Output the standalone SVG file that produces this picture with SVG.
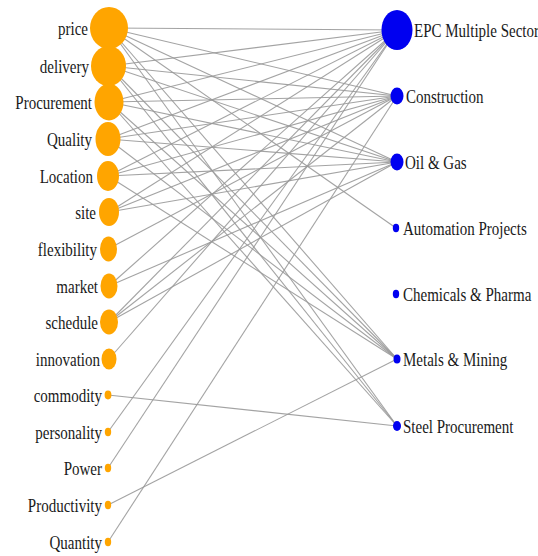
<svg xmlns="http://www.w3.org/2000/svg" width="538" height="556" viewBox="0 0 538 556">
  <style>
    .edge { stroke: #999; stroke-width: 1.1; fill: none; opacity: 0.9; }
    .term { fill: #ffa500; }
    .sector { fill: #0000f0; }
    text { font-family: "Liberation Serif", "Times New Roman", serif; font-size: 19px; fill: #1a1a1a; }
    .lbl-l { text-anchor: end; }
    .lbl-r { text-anchor: start; }
  </style>
  <rect width="538" height="556" fill="#ffffff"/>

  <!-- links between terms and sectors -->
  <g id="connectors">
    <!-- price -->
    <line class="edge" x1="109" y1="28" x2="397" y2="30"/>
    <line class="edge" x1="109" y1="28" x2="397" y2="96"/>
    <line class="edge" x1="109" y1="28" x2="397" y2="162"/>
    <line class="edge" x1="109" y1="28" x2="396" y2="228"/>
    <line class="edge" x1="109" y1="28" x2="397" y2="359"/>
    <line class="edge" x1="109" y1="28" x2="397" y2="426"/>
    <!-- delivery -->
    <line class="edge" x1="109" y1="66" x2="397" y2="30"/>
    <line class="edge" x1="109" y1="66" x2="397" y2="96"/>
    <line class="edge" x1="109" y1="66" x2="397" y2="162"/>
    <line class="edge" x1="109" y1="66" x2="397" y2="359"/>
    <line class="edge" x1="109" y1="66" x2="397" y2="426"/>
    <!-- Procurement -->
    <line class="edge" x1="109" y1="102" x2="397" y2="30"/>
    <line class="edge" x1="109" y1="102" x2="397" y2="96"/>
    <line class="edge" x1="109" y1="102" x2="397" y2="162"/>
    <line class="edge" x1="109" y1="102" x2="397" y2="359"/>
    <line class="edge" x1="109" y1="102" x2="397" y2="426"/>
    <!-- Quality -->
    <line class="edge" x1="108" y1="139" x2="397" y2="30"/>
    <line class="edge" x1="108" y1="139" x2="397" y2="96"/>
    <line class="edge" x1="108" y1="139" x2="397" y2="162"/>
    <line class="edge" x1="108" y1="139" x2="397" y2="359"/>
    <!-- Location -->
    <line class="edge" x1="108" y1="176" x2="397" y2="30"/>
    <line class="edge" x1="108" y1="176" x2="397" y2="96"/>
    <line class="edge" x1="108" y1="176" x2="397" y2="162"/>
    <line class="edge" x1="108" y1="176" x2="397" y2="359"/>
    <!-- site -->
    <line class="edge" x1="109" y1="212" x2="397" y2="30"/>
    <line class="edge" x1="109" y1="212" x2="397" y2="96"/>
    <line class="edge" x1="109" y1="212" x2="397" y2="162"/>
    <!-- flexibility -->
    <line class="edge" x1="108" y1="249" x2="397" y2="96"/>
    <!-- market -->
    <line class="edge" x1="109" y1="286" x2="397" y2="30"/>
    <line class="edge" x1="109" y1="286" x2="397" y2="162"/>
    <!-- schedule -->
    <line class="edge" x1="109" y1="322" x2="397" y2="30"/>
    <line class="edge" x1="109" y1="322" x2="397" y2="96"/>
    <line class="edge" x1="109" y1="322" x2="397" y2="162"/>
    <!-- innovation -->
    <line class="edge" x1="109" y1="359" x2="397" y2="30"/>
    <!-- commodity -->
    <line class="edge" x1="108" y1="395" x2="397" y2="426"/>
    <!-- personality -->
    <line class="edge" x1="108" y1="432" x2="397" y2="30"/>
    <!-- Power -->
    <line class="edge" x1="108" y1="468" x2="397" y2="30"/>
    <!-- Productivity -->
    <line class="edge" x1="108" y1="505" x2="397" y2="359"/>
    <!-- Quantity -->
    <line class="edge" x1="108" y1="542" x2="397" y2="96"/>
  </g>

  <!-- term nodes (left column) -->
  <g id="node-price"><ellipse class="term" cx="109" cy="28" rx="19" ry="21"/><text class="lbl-l" transform="translate(88 35) scale(0.79 1)">price</text></g>
  <g id="node-delivery"><ellipse class="term" cx="108.5" cy="66" rx="17.5" ry="20"/><text class="lbl-l" transform="translate(89 73) scale(0.79 1)">delivery</text></g>
  <g id="node-procurement"><ellipse class="term" cx="109" cy="102" rx="14.5" ry="18.5"/><text class="lbl-l" transform="translate(92 109) scale(0.79 1)">Procurement</text></g>
  <g id="node-quality"><ellipse class="term" cx="108" cy="139" rx="12.5" ry="17"/><text class="lbl-l" transform="translate(92 146) scale(0.79 1)">Quality</text></g>
  <g id="node-location"><ellipse class="term" cx="108" cy="176" rx="11" ry="15"/><text class="lbl-l" transform="translate(93 183) scale(0.79 1)">Location</text></g>
  <g id="node-site"><ellipse class="term" cx="109" cy="212" rx="10" ry="14"/><text class="lbl-l" transform="translate(96 219) scale(0.79 1)">site</text></g>
  <g id="node-flexibility"><ellipse class="term" cx="108.5" cy="249" rx="8.5" ry="12.5"/><text class="lbl-l" transform="translate(97 256) scale(0.79 1)">flexibility</text></g>
  <g id="node-market"><ellipse class="term" cx="109" cy="286" rx="8.5" ry="12.5"/><text class="lbl-l" transform="translate(98 293) scale(0.79 1)">market</text></g>
  <g id="node-schedule"><ellipse class="term" cx="109" cy="322" rx="9" ry="12.5"/><text class="lbl-l" transform="translate(98 329) scale(0.79 1)">schedule</text></g>
  <g id="node-innovation"><ellipse class="term" cx="109" cy="359" rx="7.5" ry="10.5"/><text class="lbl-l" transform="translate(100 366) scale(0.79 1)">innovation</text></g>
  <g id="node-commodity"><ellipse class="term" cx="108" cy="395" rx="3.4" ry="4.4"/><text class="lbl-l" transform="translate(102 402) scale(0.79 1)">commodity</text></g>
  <g id="node-personality"><ellipse class="term" cx="108" cy="432" rx="3.2" ry="4.2"/><text class="lbl-l" transform="translate(102 439) scale(0.79 1)">personality</text></g>
  <g id="node-power"><ellipse class="term" cx="108" cy="468" rx="3.2" ry="4.2"/><text class="lbl-l" transform="translate(102 475) scale(0.79 1)">Power</text></g>
  <g id="node-productivity"><ellipse class="term" cx="108" cy="505" rx="3.2" ry="4.2"/><text class="lbl-l" transform="translate(102 512) scale(0.79 1)">Productivity</text></g>
  <g id="node-quantity"><ellipse class="term" cx="108" cy="542" rx="3.2" ry="4.2"/><text class="lbl-l" transform="translate(102 549) scale(0.79 1)">Quantity</text></g>

  <!-- sector nodes (right column) -->
  <g id="node-epc"><ellipse class="sector" cx="397" cy="30" rx="15.5" ry="20"/><text class="lbl-r" transform="translate(414 37) scale(0.79 1)">EPC Multiple Sector</text></g>
  <g id="node-construction"><ellipse class="sector" cx="397" cy="96" rx="6.5" ry="8.5"/><text class="lbl-r" transform="translate(406 103) scale(0.79 1)">Construction</text></g>
  <g id="node-oilgas"><ellipse class="sector" cx="397" cy="162" rx="6.5" ry="8.5"/><text class="lbl-r" transform="translate(405 169) scale(0.79 1)">Oil &amp; Gas</text></g>
  <g id="node-automation"><ellipse class="sector" cx="396" cy="228" rx="3.2" ry="4.2"/><text class="lbl-r" transform="translate(403 235) scale(0.79 1)">Automation Projects</text></g>
  <g id="node-chemicals"><ellipse class="sector" cx="396" cy="294" rx="3.2" ry="4.2"/><text class="lbl-r" transform="translate(403 301) scale(0.79 1)">Chemicals &amp; Pharma</text></g>
  <g id="node-metals"><ellipse class="sector" cx="397" cy="359" rx="3.5" ry="4.5"/><text class="lbl-r" transform="translate(403 366) scale(0.79 1)">Metals &amp; Mining</text></g>
  <g id="node-steel"><ellipse class="sector" cx="397" cy="426" rx="4" ry="5"/><text class="lbl-r" transform="translate(403 433) scale(0.79 1)">Steel Procurement</text></g>
</svg>
